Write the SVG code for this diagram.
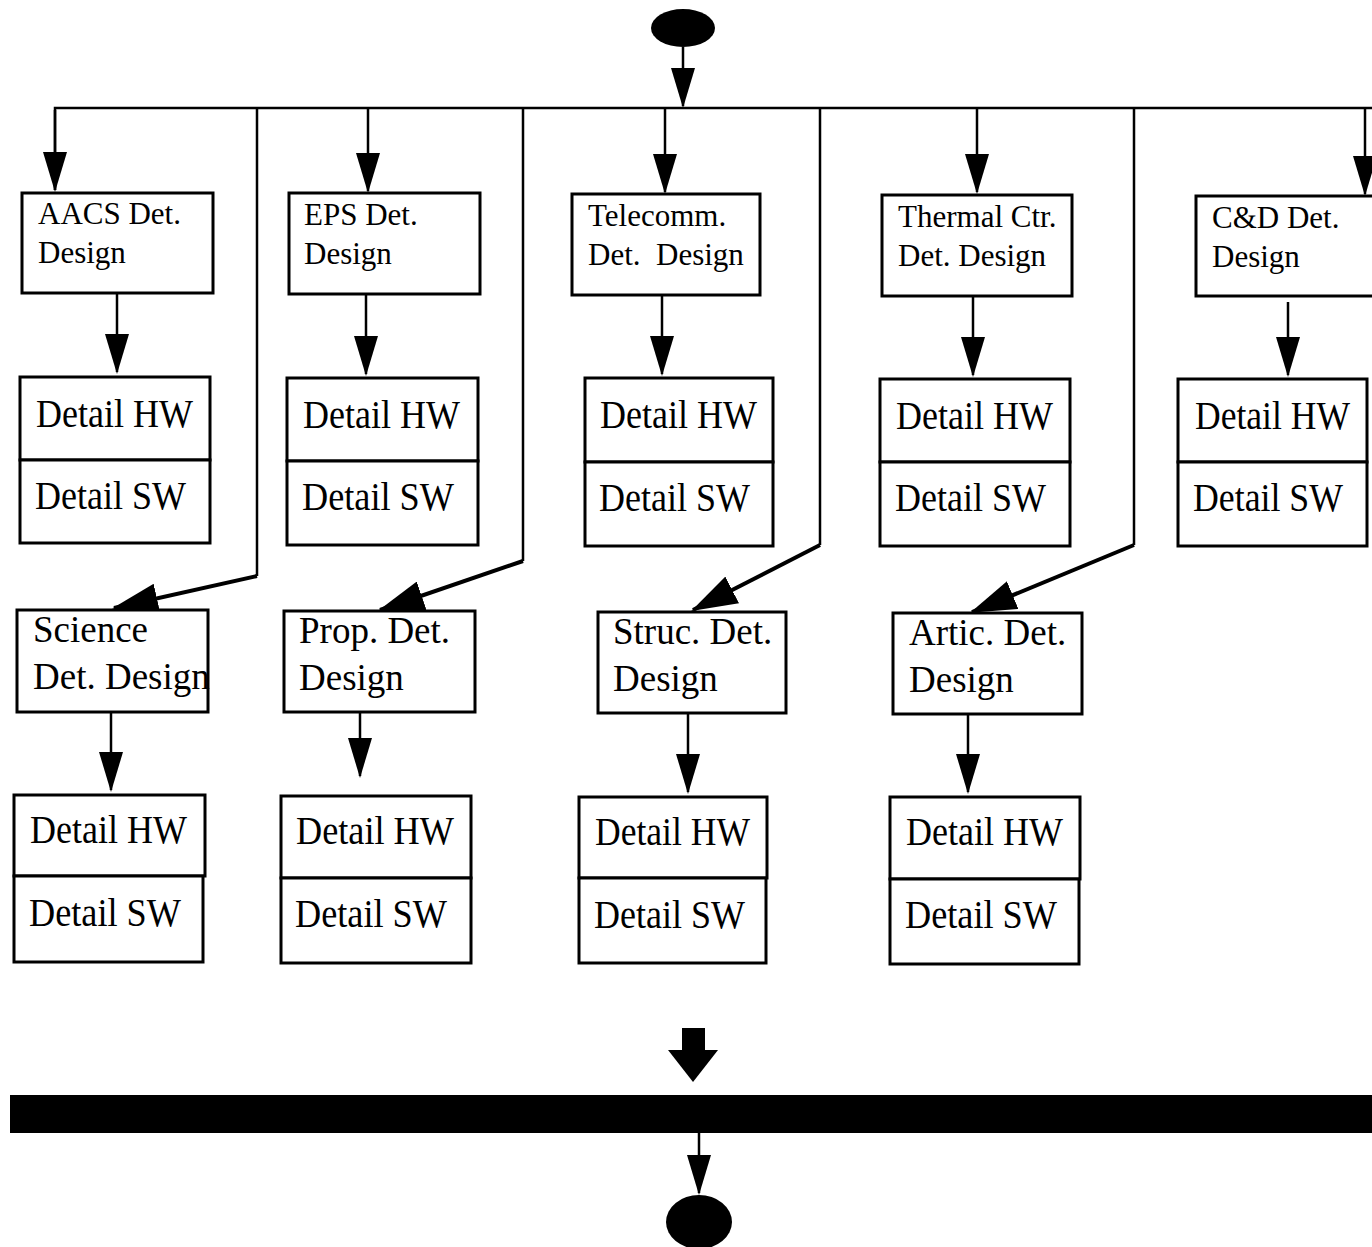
<svg xmlns="http://www.w3.org/2000/svg" width="1372" height="1247" viewBox="0 0 1372 1247">
<style>
.box{fill:#fff;stroke:#000;stroke-width:3}
.t1{font-family:"Liberation Serif","Times New Roman",serif;font-size:31px;fill:#000}
.t3{font-family:"Liberation Serif","Times New Roman",serif;font-size:37px;fill:#000}
.dt{font-family:"Liberation Serif","Times New Roman",serif;font-size:41px;fill:#000}
.ln{fill:none;stroke:#000;stroke-width:2.5}
.ld{fill:none;stroke:#000;stroke-width:4}
</style>
<defs>
<marker id="ah" markerUnits="userSpaceOnUse" viewBox="0 0 40 24" refX="38" refY="12" markerWidth="40" markerHeight="24" orient="auto">
<path d="M0,0 L40,12 L0,24 z" fill="#000"/>
</marker>
<marker id="ahd" markerUnits="userSpaceOnUse" viewBox="0 0 46 30" refX="44" refY="15" markerWidth="46" markerHeight="30" orient="auto">
<path d="M0,0 L46,15 L0,30 z" fill="#000"/>
</marker>
</defs>
<rect width="1372" height="1247" fill="#fff"/>

<g id="connectors">
<path class="ln" d="M683,47 V106" marker-end="url(#ah)"/>
<path class="ln" d="M55,190 V108 H1372"/>
<path class="ln" d="M55,110 V190" marker-end="url(#ah)"/>
<path class="ln" d="M368,108 V191" marker-end="url(#ah)"/>
<path class="ln" d="M665,108 V192" marker-end="url(#ah)"/>
<path class="ln" d="M977,108 V192" marker-end="url(#ah)"/>
<path class="ln" d="M1365,108 V194" marker-end="url(#ah)"/>
<path class="ln" d="M117,293 V372" marker-end="url(#ah)"/>
<path class="ln" d="M366,294 V374" marker-end="url(#ah)"/>
<path class="ln" d="M662,295 V374" marker-end="url(#ah)"/>
<path class="ln" d="M973,296 V375" marker-end="url(#ah)"/>
<path class="ln" d="M1288,302 V375" marker-end="url(#ah)"/>
<path class="ln" d="M257,108 V576"/>
<path class="ld" d="M257,576 L114,608" marker-end="url(#ahd)"/>
<path class="ln" d="M523,108 V561"/>
<path class="ld" d="M523,561 L380,610" marker-end="url(#ahd)"/>
<path class="ln" d="M820,108 V545"/>
<path class="ld" d="M820,545 L693,610" marker-end="url(#ahd)"/>
<path class="ln" d="M1134,108 V545"/>
<path class="ld" d="M1134,545 L972,612" marker-end="url(#ahd)"/>
<path class="ln" d="M111,712 V790" marker-end="url(#ah)"/>
<path class="ln" d="M360,712 V776" marker-end="url(#ah)"/>
<path class="ln" d="M688,713 V792" marker-end="url(#ah)"/>
<path class="ln" d="M968,714 V792" marker-end="url(#ah)"/>
<rect x="682" y="1028" width="23" height="24" fill="#000"/>
<path d="M668,1050 L718,1050 L693,1082 z" fill="#000"/>
<path class="ln" d="M699,1133 V1193" marker-end="url(#ah)"/>
</g>

<g id="start"><ellipse cx="683" cy="28" rx="32" ry="19" fill="#000"/></g>

<g id="aacs"><rect class="box" x="22" y="193" width="191" height="100"/>
<text class="t1" x="38" y="224">AACS Det.</text><text class="t1" x="38" y="263">Design</text></g>
<g id="eps"><rect class="box" x="289" y="193" width="191" height="101"/>
<text class="t1" x="304" y="225">EPS Det.</text><text class="t1" x="304" y="264">Design</text></g>
<g id="telecomm"><rect class="box" x="572" y="194" width="188" height="101"/>
<text class="t1" x="588" y="226">Telecomm.</text><text class="t1" x="588" y="265" xml:space="preserve">Det.  Design</text></g>
<g id="thermal"><rect class="box" x="882" y="195" width="190" height="101"/>
<text class="t1" x="898" y="227">Thermal Ctr.</text><text class="t1" x="898" y="266">Det. Design</text></g>
<g id="cd"><rect class="box" x="1196" y="196" width="180" height="100"/>
<text class="t1" x="1212" y="228">C&amp;D Det.</text><text class="t1" x="1212" y="267">Design</text></g>

<g id="aacs-hwsw"><rect class="box" x="20" y="377" width="190" height="83"/><rect class="box" x="20" y="460" width="190" height="83"/>
<text class="dt" x="36" y="427" textLength="157" lengthAdjust="spacingAndGlyphs">Detail HW</text>
<text class="dt" x="35" y="509" textLength="151" lengthAdjust="spacingAndGlyphs">Detail SW</text></g>
<g id="eps-hwsw"><rect class="box" x="287" y="378" width="191" height="83"/><rect class="box" x="287" y="461" width="191" height="84"/>
<text class="dt" x="303" y="428" textLength="157" lengthAdjust="spacingAndGlyphs">Detail HW</text>
<text class="dt" x="302" y="510" textLength="152" lengthAdjust="spacingAndGlyphs">Detail SW</text></g>
<g id="telecomm-hwsw"><rect class="box" x="585" y="378" width="188" height="84"/><rect class="box" x="585" y="462" width="188" height="84"/>
<text class="dt" x="600" y="428" textLength="157" lengthAdjust="spacingAndGlyphs">Detail HW</text>
<text class="dt" x="599" y="511" textLength="151" lengthAdjust="spacingAndGlyphs">Detail SW</text></g>
<g id="thermal-hwsw"><rect class="box" x="880" y="379" width="190" height="83"/><rect class="box" x="880" y="462" width="190" height="84"/>
<text class="dt" x="896" y="429" textLength="157" lengthAdjust="spacingAndGlyphs">Detail HW</text>
<text class="dt" x="895" y="511" textLength="151" lengthAdjust="spacingAndGlyphs">Detail SW</text></g>
<g id="cd-hwsw"><rect class="box" x="1178" y="379" width="189" height="83"/><rect class="box" x="1178" y="462" width="189" height="84"/>
<text class="dt" x="1195" y="429" textLength="155" lengthAdjust="spacingAndGlyphs">Detail HW</text>
<text class="dt" x="1193" y="511" textLength="150" lengthAdjust="spacingAndGlyphs">Detail SW</text></g>

<g id="science"><rect class="box" x="17" y="610" width="191" height="102"/>
<text class="t3" x="33" y="642">Science</text><text class="t3" x="33" y="689">Det. Design</text></g>
<g id="prop"><rect class="box" x="284" y="611" width="191" height="101"/>
<text class="t3" x="299" y="643">Prop. Det.</text><text class="t3" x="299" y="690">Design</text></g>
<g id="struc"><rect class="box" x="598" y="612" width="188" height="101"/>
<text class="t3" x="613" y="644">Struc. Det.</text><text class="t3" x="613" y="691">Design</text></g>
<g id="artic"><rect class="box" x="893" y="613" width="189" height="101"/>
<text class="t3" x="909" y="645">Artic. Det.</text><text class="t3" x="909" y="692">Design</text></g>

<g id="science-hwsw"><rect class="box" x="14" y="795" width="191" height="81"/><rect class="box" x="14" y="876" width="189" height="86"/>
<text class="dt" x="30" y="843" textLength="157" lengthAdjust="spacingAndGlyphs">Detail HW</text>
<text class="dt" x="29" y="926" textLength="152" lengthAdjust="spacingAndGlyphs">Detail SW</text></g>
<g id="prop-hwsw"><rect class="box" x="281" y="796" width="190" height="82"/><rect class="box" x="281" y="878" width="190" height="85"/>
<text class="dt" x="296" y="844" textLength="158" lengthAdjust="spacingAndGlyphs">Detail HW</text>
<text class="dt" x="295" y="927" textLength="152" lengthAdjust="spacingAndGlyphs">Detail SW</text></g>
<g id="struc-hwsw"><rect class="box" x="579" y="797" width="188" height="81"/><rect class="box" x="579" y="878" width="187" height="85"/>
<text class="dt" x="595" y="845" textLength="155" lengthAdjust="spacingAndGlyphs">Detail HW</text>
<text class="dt" x="594" y="928" textLength="151" lengthAdjust="spacingAndGlyphs">Detail SW</text></g>
<g id="artic-hwsw"><rect class="box" x="890" y="797" width="190" height="82"/><rect class="box" x="890" y="879" width="189" height="85"/>
<text class="dt" x="906" y="845" textLength="157" lengthAdjust="spacingAndGlyphs">Detail HW</text>
<text class="dt" x="905" y="928" textLength="152" lengthAdjust="spacingAndGlyphs">Detail SW</text></g>

<g id="join"><rect x="10" y="1095" width="1362" height="38" fill="#000"/></g>
<g id="end"><ellipse cx="699" cy="1222" rx="33" ry="27" fill="#000"/></g>
</svg>
